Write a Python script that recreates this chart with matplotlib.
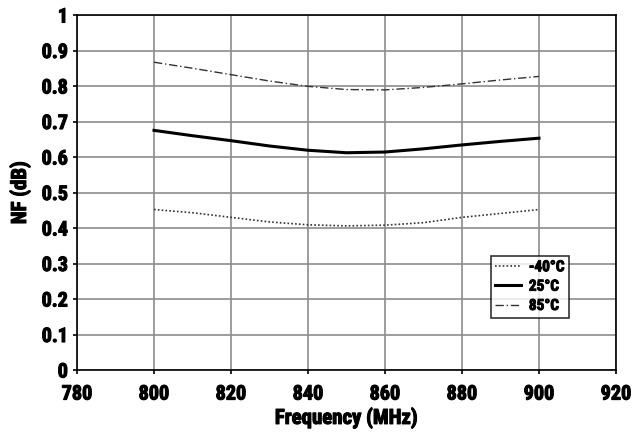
import matplotlib
matplotlib.use("Agg")
import matplotlib.pyplot as plt
from matplotlib import font_manager
import matplotlib.patheffects as pe

freq = [800, 810, 820, 830, 840, 850, 860, 870, 880, 890, 900]
nf_m40 = [0.452, 0.443, 0.430, 0.417, 0.409, 0.406, 0.408, 0.415, 0.430, 0.441, 0.452]
nf_25 = [0.675, 0.660, 0.646, 0.631, 0.619, 0.612, 0.614, 0.623, 0.634, 0.644, 0.653]
nf_85 = [0.867, 0.850, 0.832, 0.814, 0.799, 0.790, 0.789, 0.796, 0.806, 0.817, 0.827]
labels = ["-40°C", "25°C", "85°C"]
xticks = [780, 800, 820, 840, 860, 880, 900, 920]
yticks = [0, 0.1, 0.2, 0.3, 0.4, 0.5, 0.6, 0.7, 0.8, 0.9, 1]
ytick_labels = ["0", "0.1", "0.2", "0.3", "0.4", "0.5", "0.6", "0.7", "0.8", "0.9", "1"]

# pick a condensed font if one is installed
cands = []
for f in font_manager.fontManager.ttflist:
    n = f.name
    st = str(f.stretch).lower()
    if ("narrow" in n.lower() or "condensed" in n.lower() or "condensed" in st):
        cands.append((f.name, f.stretch, f.weight))
pref = ["Liberation Sans Narrow", "Roboto Condensed", "Open Sans Condensed", "DejaVu Sans Condensed",
        "Noto Sans Condensed"]
names = {c[0] for c in cands}
fam = None
stretch = 'normal'
for p in pref:
    if p in names:
        fam = p
        break
if fam is None:
    for c in cands:
        fam = c[0]
        stretch = c[1]
        break
if fam is None:
    fam = "DejaVu Sans"
plt.rcParams['font.family'] = [fam, 'DejaVu Sans']
plt.rcParams['font.weight'] = 'bold'
plt.rcParams['font.stretch'] = stretch if fam == "DejaVu Sans" or stretch != 'normal' else 'condensed'

bold = [pe.withStroke(linewidth=0.8, foreground="black")]

fig = plt.figure(figsize=(6.4, 4.32), dpi=100)
ax = fig.add_axes([77/640, 62/432, 539/640, 355/432])

ax.plot(freq, nf_m40, color="#333333", linestyle=(0, (1, 1.3)), linewidth=1.2, label=labels[0])
ax.plot(freq, nf_25, color="black", linestyle="-", linewidth=2.2, label=labels[1])
ax.plot(freq, nf_85, color="#333333", linestyle=(0, (6, 2, 1, 2)), linewidth=1.0, label=labels[2])

ax.set_xlim(780, 920)
ax.set_ylim(0, 1)
ax.set_xticks(xticks)
ax.set_yticks(yticks)
ax.set_yticklabels(ytick_labels)
ax.grid(True, color="#8c8c8c", linewidth=1.2)
ax.set_axisbelow(True)
for s in ax.spines.values():
    s.set_color("black")
    s.set_linewidth(1.2)
ax.tick_params(axis='both', direction='out', length=3, width=1.2, labelsize=14.5)
ax.tick_params(axis='x', pad=7.5)
ax.tick_params(axis='y', pad=3.5)
for lab in ax.get_xticklabels() + ax.get_yticklabels():
    lab.set_fontweight('bold')
    lab.set_path_effects(bold)

xl = ax.set_xlabel("Frequency (MHz)", fontsize=15, fontweight='bold', labelpad=3)
yl = ax.set_ylabel("NF (dB)", fontsize=15, fontweight='bold', labelpad=8)
xl.set_path_effects(bold)
yl.set_path_effects(bold)

leg = ax.legend(loc='upper left', bbox_to_anchor=(0.7675, 0.322), frameon=True, fancybox=False,
                edgecolor='black', fontsize=11, handlelength=1.7, borderpad=0.3, labelspacing=0.35,
                handletextpad=0.5, borderaxespad=0)
leg.get_frame().set_linewidth(1.2)
for t in leg.get_texts():
    t.set_fontweight('bold')
    t.set_path_effects([pe.withStroke(linewidth=0.7, foreground="black")])

fig.savefig("out.png", dpi=100)
